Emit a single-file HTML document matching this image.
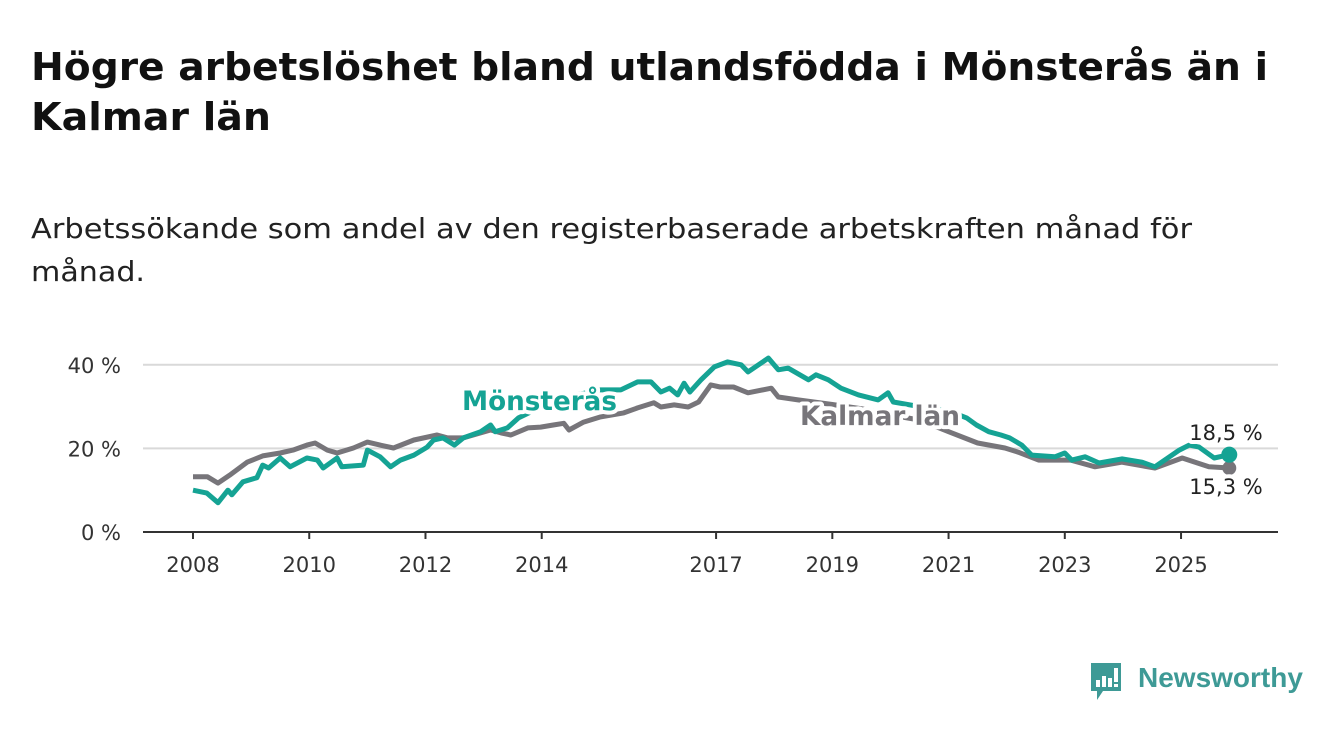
<!DOCTYPE html>
<html><head><meta charset="utf-8"><style>
body{margin:0;background:#fff;font-family:"DejaVu Sans","Liberation Sans",sans-serif;}
#wrap{position:relative;width:1340px;height:734px;overflow:hidden;}
svg{position:absolute;left:0;top:0;}
</style></head><body>
<div id="wrap">
<svg width="1340" height="300">
<text x="31" y="80" font-size="38" font-weight="bold" fill="#111" textLength="1237" lengthAdjust="spacingAndGlyphs">Högre arbetslöshet bland utlandsfödda i Mönsterås än i</text>
<text x="31" y="130" font-size="38" font-weight="bold" fill="#111" textLength="240" lengthAdjust="spacingAndGlyphs">Kalmar län</text>
<text x="31" y="238" font-size="28" fill="#222" textLength="1161" lengthAdjust="spacingAndGlyphs">Arbetssökande som andel av den registerbaserade arbetskraften månad för</text>
<text x="31" y="281" font-size="28" fill="#222" textLength="114" lengthAdjust="spacingAndGlyphs">månad.</text>
</svg>
<svg id="chart" width="1340" height="734"></svg>
<div style="position:absolute;left:1089px;top:661px;">
<svg width="36" height="42" style="position:absolute;left:0;top:0"><path d="M2 2h30v28h-18l-6 9v-9h-6z" fill="#3e9a96"/><rect x="7" y="19" width="4" height="7" fill="#fff"/><rect x="13" y="15" width="4" height="11" fill="#fff"/><rect x="19" y="17" width="4" height="9" fill="#fff"/><rect x="25" y="7" width="4" height="14" fill="#fff"/><rect x="25" y="23" width="4" height="3" fill="#fff"/></svg>
<span style="position:absolute;left:49px;top:1px;font-family:'Liberation Sans',sans-serif;font-size:28px;font-weight:bold;color:#3e9a96;white-space:nowrap;">Newsworthy</span>
</div>
</div>
<script>
const yTicks=[0,20,40];
const yTickLabels=["0 %","20 %","40 %"];
const xTicks=[2008,2010,2012,2014,2017,2019,2021,2023,2025];
const monsYears=[2008.0,2008.24,2008.43,2008.6,2008.67,2008.86,2009.1,2009.2,2009.3,2009.5,2009.67,2009.96,2010.14,2010.24,2010.48,2010.56,2010.93,2011.0,2011.22,2011.4,2011.57,2011.8,2012.03,2012.14,2012.3,2012.5,2012.65,2012.95,2013.12,2013.2,2013.41,2013.6,2014.0,2014.5,2015.0,2015.36,2015.65,2015.88,2016.05,2016.2,2016.34,2016.45,2016.55,2016.74,2016.97,2017.2,2017.43,2017.55,2017.9,2018.07,2018.24,2018.59,2018.72,2018.93,2019.15,2019.45,2019.79,2019.96,2020.05,2020.5,2021.0,2021.31,2021.48,2021.69,2021.9,2022.05,2022.26,2022.43,2022.83,2023.0,2023.12,2023.35,2023.59,2023.98,2024.33,2024.55,2024.97,2025.14,2025.31,2025.57,2025.83];
const monsValues=[10.0,9.3,7.0,10.0,8.9,12.0,13.0,16.0,15.3,17.7,15.6,17.7,17.2,15.3,17.7,15.6,16.0,19.6,18.0,15.6,17.2,18.4,20.3,22.0,22.5,20.8,22.5,24.0,25.6,24.0,24.9,27.3,30.0,32.5,34.0,34.0,35.9,35.9,33.5,34.4,32.8,35.6,33.5,36.4,39.5,40.7,40.0,38.3,41.6,38.8,39.2,36.4,37.6,36.4,34.4,32.8,31.6,33.3,31.1,30.0,29.0,27.3,25.6,24.0,23.2,22.5,20.8,18.4,18.0,18.9,17.2,18.0,16.5,17.5,16.7,15.6,19.6,20.8,20.3,17.7,18.5];
const kalYears=[2008.0,2008.25,2008.43,2008.63,2008.93,2009.2,2009.5,2009.72,2009.96,2010.1,2010.31,2010.48,2010.76,2011.0,2011.22,2011.45,2011.8,2012.2,2012.38,2012.65,2013.12,2013.3,2013.47,2013.76,2013.98,2014.2,2014.38,2014.47,2014.72,2015.0,2015.41,2015.65,2015.93,2016.05,2016.28,2016.52,2016.7,2016.91,2017.07,2017.3,2017.55,2017.95,2018.07,2018.41,2019.0,2019.5,2020.0,2020.5,2021.0,2021.5,2021.97,2022.2,2022.55,2023.1,2023.52,2023.98,2024.55,2025.02,2025.48,2025.83];
const kalValues=[13.2,13.2,11.7,13.6,16.7,18.2,18.9,19.6,20.8,21.3,19.6,18.9,20.1,21.5,20.8,20.1,22.0,23.2,22.5,22.5,24.4,23.7,23.2,24.9,25.1,25.6,26.0,24.4,26.3,27.5,28.5,29.7,30.9,29.9,30.4,29.9,31.1,35.2,34.7,34.7,33.3,34.4,32.3,31.6,30.5,29.5,28.0,26.8,24.0,21.3,20.1,19.1,17.2,17.2,15.6,16.7,15.3,17.7,15.6,15.3];
const NS="http://www.w3.org/2000/svg";
const svg=document.getElementById('chart');
const X=y=>193+(y-2008)*58.12;
const Y=v=>532-v*4.18;
function mk(t,a,p){const e=document.createElementNS(NS,t);for(const k in a)e.setAttribute(k,a[k]);(p||svg).appendChild(e);return e;}
yTicks.forEach((v,i)=>{
  if(v>0){const g=mk('line',{x1:143,x2:1278,y1:Y(v),y2:Y(v),stroke:'#d9d9d9','stroke-width':2});
  
  }
  const t=mk('text',{x:121,y:Y(v)+8,'text-anchor':'end','font-size':21,fill:'#333'});t.textContent=yTickLabels[i];
  
  
});
const ax=mk('line',{x1:143,x2:1278,y1:532,y2:532,stroke:'#333','stroke-width':2});


xTicks.forEach(yr=>{
  const tk=mk('line',{x1:X(yr),x2:X(yr),y1:532,y2:539,stroke:'#333','stroke-width':2});
  
  
  const t=mk('text',{x:X(yr),y:572,'text-anchor':'middle','font-size':21,fill:'#333'});t.textContent=yr;
  
  
});
function pts(ys,vs){return ys.map((y,i)=>X(y).toFixed(1)+','+Y(vs[i]).toFixed(1)).join(' ');}
const kl=mk('polyline',{points:pts(kalYears,kalValues),fill:'none',stroke:'#77757a','stroke-width':5,'stroke-linejoin':'round'});


const ml=mk('polyline',{points:pts(monsYears,monsValues),fill:'none',stroke:'#15a394','stroke-width':5,'stroke-linejoin':'round'});


const kx=X(kalYears[kalYears.length-1]),ky=Y(kalValues[kalValues.length-1]);
const mx=X(monsYears[monsYears.length-1]),my=Y(monsValues[monsValues.length-1]);
const kd=mk('circle',{cx:kx,cy:ky,r:7,fill:'#77757a'});


const md=mk('circle',{cx:mx,cy:my,r:8,fill:'#15a394'});


function lab(x,y,txt,col,bold,anchor,name,len){
  const base={x:x,y:y,'text-anchor':anchor,'font-size':bold?27:21,'font-weight':bold?'bold':'normal'};
  if(len){base.textLength=len;base.lengthAdjust='spacingAndGlyphs';}
  const h=mk('text',Object.assign({},base,{fill:'#fff',stroke:'#fff','stroke-width':8,'stroke-linejoin':'round'}));h.textContent=txt;
  
  
  const t=mk('text',Object.assign({},base,{fill:col}));t.textContent=txt;
  
  
}
lab(462,410,'Mönsterås','#15a394',true,'start','monsteras-label',155);
lab(800,425,'Kalmar län','#77757a',true,'start','kalmar-label',160);
lab(1226,440,'18,5 %','#222',false,'middle','monsteras-value-label');
lab(1226,494,'15,3 %','#222',false,'middle','kalmar-value-label');
</script>
</body></html>
